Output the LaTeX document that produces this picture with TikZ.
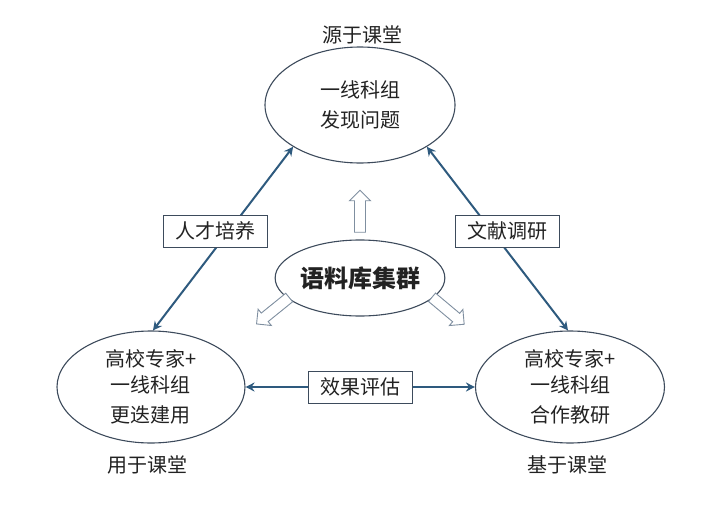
\documentclass[tikz,border=0pt]{standalone}
\usepackage{fontspec}
\setmainfont{Noto Sans CJK SC}
\usetikzlibrary{shapes.geometric,shapes.arrows,arrows.meta}
\definecolor{lineblue}{HTML}{2E5A7E}
\definecolor{ellgray}{HTML}{3D4B5C}
\definecolor{txt}{HTML}{222222}
\definecolor{hollow}{HTML}{7F8FA0}
\begin{document}
\begin{tikzpicture}[x=1pt,y=-1pt,
  ell/.style={ellipse, draw=ellgray, line width=1.1pt, inner sep=0pt, align=center, text=txt, font=\fontsize{20}{30}\selectfont},
  lbl/.style={text=txt, font=\fontsize{20}{24}\selectfont},
  tag/.style={draw=ellgray, line width=0.9pt, fill=white, minimum width=104pt, minimum height=32pt, inner sep=0pt, text=txt, font=\fontsize{20}{24}\selectfont},
  conn/.style={draw=lineblue, line width=2pt, {Stealth[length=9pt,width=9pt,inset=3pt]}-{Stealth[length=9pt,width=9pt,inset=3pt]}},
  blk/.style={single arrow, draw=hollow, line width=0.9pt, fill=white, inner sep=5pt, minimum height=42pt, minimum width=21pt, single arrow head extend=5pt, single arrow head indent=0pt}
]
\useasboundingbox (0,0) rectangle (724,530);
\node[ell, minimum width=190pt, minimum height=116pt] (top) at (360,105) {一线科组\\发现问题};
\node[ell, minimum width=188pt, minimum height=112pt] (bl) at (151,387) {高校专家+\\[-4pt]一线科组\\更迭建用};
\node[ell, minimum width=189pt, minimum height=112pt] (br) at (570,387) {高校专家+\\[-4pt]一线科组\\合作教研};
\node[ell, minimum width=136pt, minimum height=76pt, font=\fontsize{24}{28}\selectfont\bfseries] (mid) at (360,278) {语料库集群};

\node[lbl] (ltop) at (362,35) {源于课堂};
\node[lbl] (lbl1) at (147,465) {用于课堂};
\node[lbl] (lbr) at (567,465) {基于课堂};

\draw[conn] (top.212) -- (bl.88);
\draw[conn] (top.328) -- (br.92);
\draw[conn] (bl.east) -- (br.west);

\node[tag] (t1) at (215,231) {人才培养};
\node[tag] (t2) at (507,231) {文献调研};
\node[tag] (t3) at (360,387) {效果评估};

\node[blk, rotate=90] (a1) at (360,214) {};
\node[blk, rotate=219] (a2) at (275,309) {};
\node[blk, rotate=-40] (a3) at (446,309) {};
\end{tikzpicture}
\end{document}
